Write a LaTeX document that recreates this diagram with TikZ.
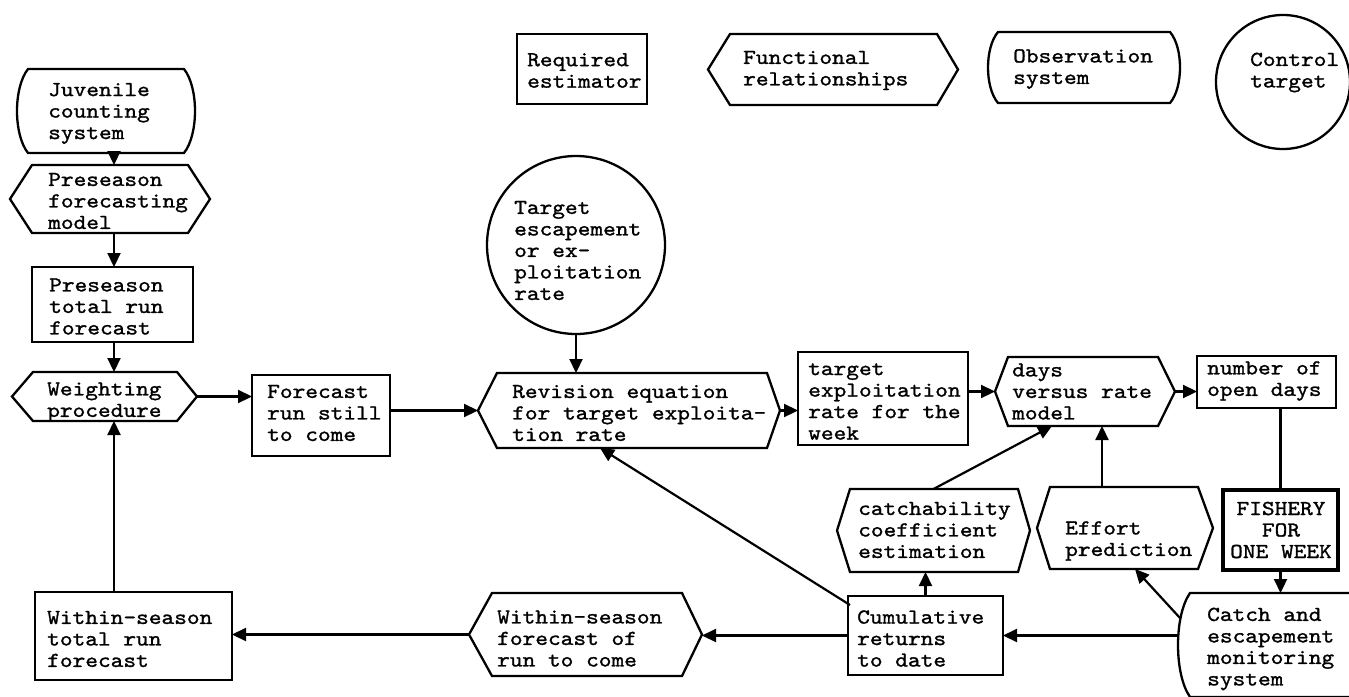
\documentclass[tikz,border=0pt]{standalone}
\usepackage{fontspec}
\newfontfamily\tw[FakeStretch=1.136,FakeBold=1.2]{lmmono10-regular.otf}
\usetikzlibrary{arrows.meta,calc}

\tikzset{
  outline/.style={draw=black, line width=2.3pt, line join=miter},
  bbox/.style={inner sep=0pt, outer sep=0pt, draw=none, rectangle},
  lbl/.style={inner sep=0pt, anchor=west, align=left, font={\tw\fontsize{21.3}{21.5}\selectfont}},
  clbl/.style={lbl, anchor=center, align=center},
  conn/.style={line width=2.2pt, -{Triangle[length=14pt,width=13pt]}},
  plain/.style={line width=2.2pt},
}

% invisible frame node: name, x1, y1, x2, y2
\newcommand\frameat[5]{%
  \node[bbox, minimum width={(#4)-(#2)}, minimum height={(#5)-(#3)}] (#1) at ({((#2)+(#4))/2},{((#3)+(#5))/2}) {};}
% estimator box
\newcommand\rectshape[5]{\frameat{#1}{#2}{#3}{#4}{#5}%
  \draw[outline] (#1.north west) rectangle (#1.south east);}
% functional relationship: name, x1, y1, x2, y2, left inset, right inset
\newcommand\hexshape[7]{\frameat{#1}{#2}{#3}{#4}{#5}%
  \draw[outline] (#1.west) -- ($(#1.north west)+(#6,0)$) -- ($(#1.north east)+(-#7,0)$) -- (#1.east)
    -- ($(#1.south east)+(-#7,0)$) -- ($(#1.south west)+(#6,0)$) -- cycle;}
% observation system: name, x1, y1, x2, y2, side bulge
\newcommand\obsshape[6]{\frameat{#1}{#2}{#3}{#4}{#5}%
  \draw[outline] ($(#1.north west)+(#6,0)$) -- ($(#1.north east)+(-#6,0)$)
    .. controls ($(#1.north east)!0.22!(#1.south east)+(#6/3,0)$) and ($(#1.north east)!0.78!(#1.south east)+(#6/3,0)$)
    .. ($(#1.south east)+(-#6,0)$) -- ($(#1.south west)+(#6,0)$)
    .. controls ($(#1.north west)!0.78!(#1.south west)+(-#6/3,0)$) and ($(#1.north west)!0.22!(#1.south west)+(-#6/3,0)$)
    .. cycle;}

\begin{document}
\begin{tikzpicture}[x=1pt,y=-1pt]
\useasboundingbox (0,0) rectangle (1349,696);
\fill[white] (0,0) rectangle (1349,696);

% ---- key ----
\rectshape{legre}{517}{34}{647}{104}
\node[lbl] (legre-t) at (527,70.5) {Required\\estimator};
\hexshape{legfr}{708}{34}{958}{105}{22}{21}
\node[lbl] (legfr-t) at (743,70.5) {Functional\\relationships};
\obsshape{legos}{988}{32}{1180}{103}{10}
\node[lbl] (legos-t) at (1013,69) {Observation\\system};
\node[outline, circle, inner sep=0pt, minimum size=134pt] (legct) at (1283,82) {};
\node[lbl] (legct-t) at (1250,72.5) {Control\\target};

% ---- preseason chain ----
\coordinate (colx) at (114,0);
\obsshape{juv}{17}{69}{195}{153}{11}
\node[lbl] (juv-t) at (48,113.5) {Juvenile\\counting\\system};
\hexshape{pfm}{10}{165}{210}{233}{22}{22}
\node[lbl] (pfm-t) at (48,201) {Preseason\\forecasting\\model};
\rectshape{psf}{32}{267}{193}{342}
\node[lbl] (psf-t) at (49,306.5) {Preseason\\total run\\forecast};
\hexshape{wgt}{12}{372}{197}{421}{21}{20}
\node[lbl] (wgt-t) at (47,402) {Weighting\\procedure};
\rectshape{fc}{252}{375}{390}{456}
\node[lbl] (fc-t) at (267,413) {Forecast\\run still\\to come};
\rectshape{wsf}{35}{592}{232}{680}
\node[lbl] (wsf-t) at (47,639) {Within-season\\total run\\forecast};

% ---- target revision ----
\node[outline, circle, inner sep=0pt, minimum size=178pt] (tgt) at (576,245) {};
\node[lbl] (tgt-t) at (514,250.5) {Target\\escapement\\or ex-\\ploitation\\rate};
\hexshape{rev}{478}{373}{780}{448}{19}{13}
\node[lbl] (rev-t) at (512,413) {Revision equation\\for target exploita-\\tion rate};
\rectshape{ter}{798}{352}{968}{445}
\node[lbl] (ter-t) at (808,401.5) {target\\exploitation\\rate for the\\week};
\hexshape{days}{995}{357}{1175}{426}{13}{17}
\node[lbl] (days-t) at (1012,391.5) {days\\versus rate\\model};
\rectshape{nod}{1197}{356}{1336}{408}
\node[lbl] (nod-t) at (1207,381) {number of\\open days};

% ---- fishery and monitoring ----
\frameat{fish}{1223}{490}{1338}{570}
\draw[outline, line width=4pt] (fish.north west) rectangle (fish.south east);
\node[clbl] (fish-t) at (1281,530) {FISHERY\\FOR\\ONE WEEK};
\obsshape{catch}{1178}{593}{1362}{697}{12}
\node[lbl] (catch-t) at (1207,649) {Catch and\\escapement\\monitoring\\system};
\hexshape{eff}{1037}{487}{1213}{569}{13}{15}
\node[lbl] (eff-t) at (1065,541) {Effort\\prediction};
\hexshape{cat}{837}{489}{1030}{572}{13}{12}
\node[lbl] (cat-t) at (858,530) {catchability\\coefficient\\estimation};
\rectshape{cum}{848}{596}{1003}{675}
\node[lbl] (cum-t) at (857,638.5) {Cumulative\\returns\\to date};
\hexshape{wh}{469}{593}{702}{676}{23}{20}
\node[lbl] (wh-t) at (497,638.5) {Within-season\\forecast of\\run to come};

% ---- connectors ----
\draw[conn] (juv.south -| colx) -- (pfm.north -| colx);
\draw[conn] (pfm.south -| colx) -- (psf.north -| colx);
\draw[conn] (psf.south -| colx) -- (wgt.north -| colx);
\draw[conn] (wgt.east) -- (wgt.east -| fc.west);
\draw[conn] (fc.east |- rev.west) -- (rev.west);
\draw[conn] (tgt.south) -- (tgt.south |- rev.north);
\draw[conn] (rev.east) -- (rev.east -| ter.west);
\draw[conn] (ter.east |- days.west) -- (days.west);
\draw[conn] (days.east) -- (days.east -| nod.west);
\draw[plain] (nod.south -| fish.north) -- (fish.north);
\draw[conn] (fish.south) -- (fish.south |- catch.north);
\draw[conn] (cum.east -| catch.west) -- (cum.east);
\draw[conn] ($(catch.west)+(2,-27)$) -- ($(eff.south)+(10,0)$);
\draw[conn] ($(eff.north)+(-23,0)$) -- ($(days.south)+(17,0)$);
\draw[conn] (cat.north) -- ($(days.south)+(-33,0)$);
\draw[conn] (cum.north) -- (cum.north |- cat.south);
\draw[conn] ($(cum.north west)+(2,9)$) -- ($(rev.south)+(-29,0)$);
\draw[conn] (cum.west) -- (cum.west -| wh.east);
\draw[conn] (wh.west) -- (wh.west -| wsf.east);
\draw[conn] (wsf.north -| colx) -- (wgt.south -| colx);
\end{tikzpicture}
\end{document}
